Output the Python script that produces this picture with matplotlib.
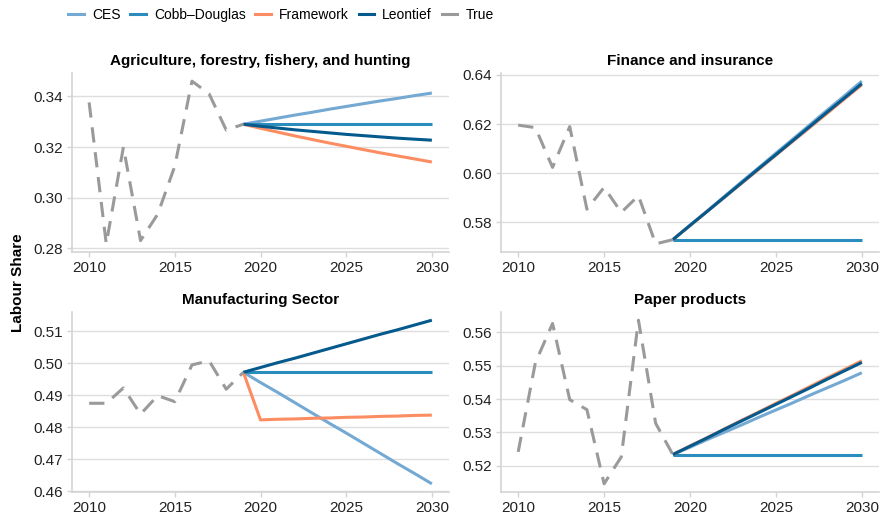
import numpy as np
import matplotlib
matplotlib.use("Agg")
import matplotlib.pyplot as plt
from matplotlib.ticker import MultipleLocator, FormatStrFormatter
from matplotlib.lines import Line2D

plt.rcParams['font.family'] = ['Liberation Sans', 'DejaVu Sans']

# Anos
hist_years = [2010, 2011, 2012, 2013, 2014, 2015, 2016, 2017, 2018, 2019]
proj_years = [2019, 2020, 2021, 2022, 2023, 2024, 2025, 2026, 2027, 2028, 2029, 2030]

model_names = ["CES", "Cobb\u2013Douglas", "Framework", "Leontief", "True"]
model_colors = ["#74a9d4", "#2b8cbe", "#fc8d62", "#045a8d", "#9a9a9a"]

# Agriculture
agri_true = [0.3376, 0.2818, 0.3200, 0.2831, 0.2935, 0.3125, 0.3460, 0.3410, 0.3267, 0.3290]
agri_ces = [0.3290, 0.3302, 0.3314, 0.3326, 0.3337, 0.3349, 0.3360, 0.3371, 0.3382, 0.3392, 0.3403, 0.3413]
agri_cd = [0.3290] * 12
agri_fw = [0.3290, 0.3274, 0.3259, 0.3244, 0.3230, 0.3216, 0.3203, 0.3190, 0.3177, 0.3165, 0.3153, 0.3141]
agri_leo = [0.3290, 0.3282, 0.3275, 0.3268, 0.3262, 0.3256, 0.3250, 0.3245, 0.3240, 0.3235, 0.3231, 0.3227]

# Finance
fin_true = [0.6196, 0.6186, 0.6024, 0.6190, 0.5854, 0.5943, 0.5841, 0.5909, 0.5713, 0.5730]
fin_ces = [0.5730, 0.5789, 0.5847, 0.5906, 0.5965, 0.6023, 0.6082, 0.6140, 0.6199, 0.6258, 0.6316, 0.6375]
fin_cd = [0.5730] * 12
fin_fw = [0.5730, 0.5787, 0.5845, 0.5902, 0.5959, 0.6016, 0.6074, 0.6131, 0.6188, 0.6245, 0.6303, 0.6360]
fin_leo = [0.5730, 0.5788, 0.5845, 0.5903, 0.5961, 0.6019, 0.6076, 0.6134, 0.6192, 0.6250, 0.6307, 0.6365]

# Manufacturing
man_true = [0.4875, 0.4875, 0.4923, 0.4841, 0.4899, 0.4880, 0.4995, 0.5008, 0.4919, 0.4972]
man_ces = [0.4972, 0.4940, 0.4909, 0.4877, 0.4845, 0.4813, 0.4782, 0.4750, 0.4718, 0.4686, 0.4655, 0.4623]
man_cd = [0.4972] * 12
man_fw = [0.4972, 0.4823, 0.4825, 0.4826, 0.4828, 0.4829, 0.4831, 0.4832, 0.4834, 0.4835, 0.4837, 0.4838]
man_leo = [0.4972, 0.4987, 0.5002, 0.5016, 0.5031, 0.5046, 0.5061, 0.5076, 0.5091, 0.5105, 0.5120, 0.5135]

# Paper
pap_true = [0.5241, 0.5509, 0.5627, 0.5398, 0.5368, 0.5145, 0.5226, 0.5637, 0.5327, 0.5233]
pap_ces = [0.5233, 0.5255, 0.5278, 0.5300, 0.5322, 0.5345, 0.5367, 0.5389, 0.5412, 0.5434, 0.5456, 0.5479]
pap_cd = [0.5233] * 12
pap_fw = [0.5233, 0.5259, 0.5284, 0.5310, 0.5336, 0.5361, 0.5387, 0.5412, 0.5438, 0.5464, 0.5489, 0.5515]
pap_leo = [0.5233, 0.5258, 0.5283, 0.5309, 0.5334, 0.5359, 0.5384, 0.5409, 0.5434, 0.5460, 0.5485, 0.5510]

panels = [
    ("Agriculture, forestry, fishery, and hunting", agri_true, [agri_ces, agri_cd, agri_fw, agri_leo], 0.02),
    ("Finance and insurance", fin_true, [fin_ces, fin_cd, fin_fw, fin_leo], 0.02),
    ("Manufacturing Sector", man_true, [man_ces, man_cd, man_fw, man_leo], 0.01),
    ("Paper products", pap_true, [pap_ces, pap_cd, pap_fw, pap_leo], 0.01),
]

W, H = 880, 520
fig = plt.figure(figsize=(W / 100, H / 100), dpi=100)

# posições em pixels (esquerda, topo, direita, baixo)
boxes = [
    (72, 73, 449, 252),
    (501, 73, 879, 252),
    (72, 312, 449, 492),
    (501, 312, 879, 492),
]

for (title, true_vals, models, step), (x0, y0, x1, y1) in zip(panels, boxes):
    ax = fig.add_axes([x0 / W, 1 - y1 / H, (x1 - x0) / W, (y1 - y0) / H])
    for vals, color in zip(models, model_colors[:4]):
        ax.plot(proj_years, vals, color=color, lw=2.2, solid_capstyle='butt')
    ax.plot(hist_years, true_vals, color=model_colors[4], lw=2.2, dashes=(5, 3.2))

    ax.set_title(title, fontsize=11, fontweight='bold', pad=6)
    ax.xaxis.set_major_locator(MultipleLocator(5))
    ax.yaxis.set_major_locator(MultipleLocator(step))
    ax.yaxis.set_major_formatter(FormatStrFormatter('%.2f'))
    ax.grid(axis='y', color='#dedede', lw=1)
    ax.set_axisbelow(True)
    for s in ['top', 'right']:
        ax.spines[s].set_visible(False)
    for s in ['left', 'bottom']:
        ax.spines[s].set_color('#d4d4d4')
        ax.spines[s].set_linewidth(1.2)
    ax.tick_params(colors='#d4d4d4', labelcolor='#222222', labelsize=11, length=3.5, width=1, pad=3)

fig.text(18 / W, 1 - 283 / H, "Labour Share", rotation=90, ha='center', va='center',
         fontsize=11, fontweight='bold')

handles = [Line2D([], [], color=c, lw=2.2) for c in model_colors]
fig.legend(handles, model_names, loc='center', bbox_to_anchor=(281 / W, 1 - 15 / H), ncol=5,
           frameon=False, fontsize=10, handlelength=1.1, handletextpad=0.6, columnspacing=0.7)

fig.savefig("out.png", dpi=100)
